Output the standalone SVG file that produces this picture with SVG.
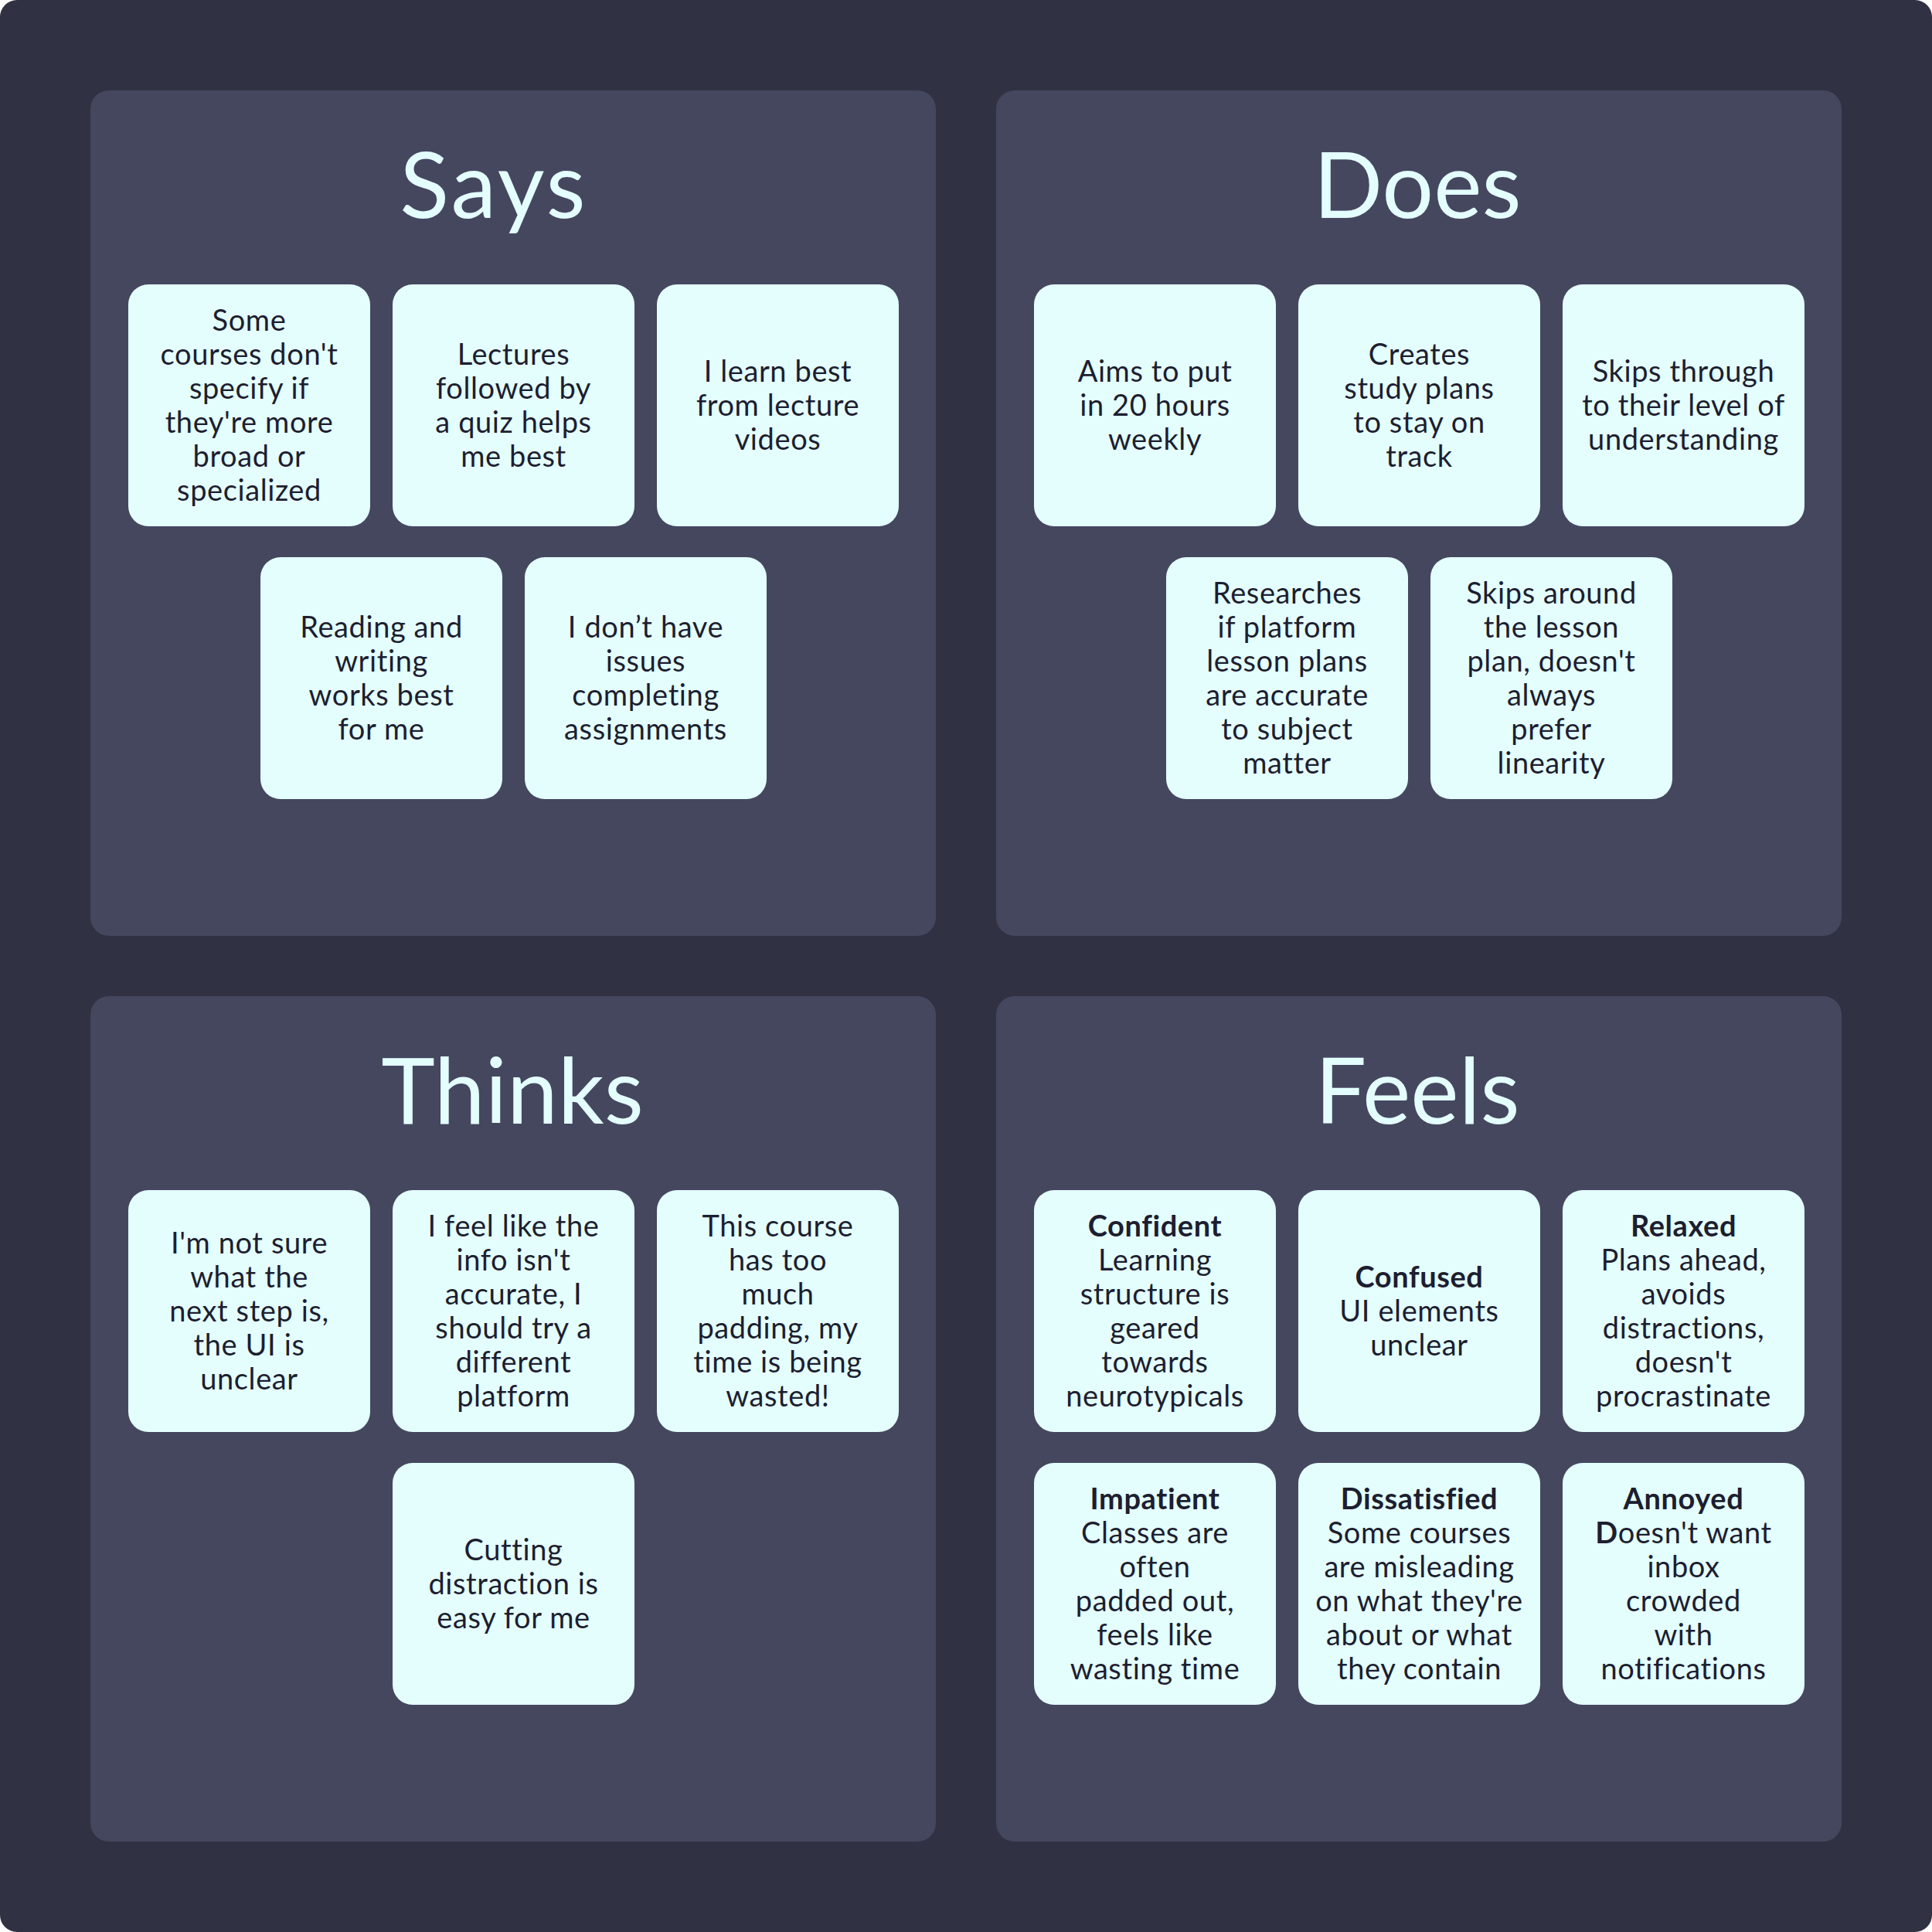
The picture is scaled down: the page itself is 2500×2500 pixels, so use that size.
<svg xmlns="http://www.w3.org/2000/svg" width="2500" height="2500" viewBox="0 0 2500 2500">
<style>
.bg{fill:#303142}
.panel{fill:#45475f}
.card{fill:#e4fefe}
.title{font-family:Lato,"Liberation Sans",sans-serif;font-size:118px;fill:#e4fefe;text-anchor:middle}
.t{font-family:Lato,"Liberation Sans",sans-serif;font-size:38px;fill:#1d1e30;text-anchor:middle;letter-spacing:0.6px}
.b{font-weight:bold}
</style>
<rect class="bg" x="0" y="0" width="2500" height="2500" rx="22"/>
<g id="says">
<rect class="panel" x="117" y="117" width="1094" height="1094" rx="24"/>
<text class="title" x="639" y="282" letter-spacing="3">Says</text>
</g>
<g id="does">
<rect class="panel" x="1289" y="117" width="1094" height="1094" rx="24"/>
<text class="title" x="1834" y="282">Does</text>
</g>
<g id="thinks">
<rect class="panel" x="117" y="1289" width="1094" height="1094" rx="24"/>
<text class="title" x="663" y="1454">Thinks</text>
</g>
<g id="feels">
<rect class="panel" x="1289" y="1289" width="1094" height="1094" rx="24"/>
<text class="title" x="1834" y="1454">Feels</text>
</g>

<g id="says-1"><rect class="card" x="166" y="368" width="313" height="313" rx="26"/>
<text class="t" x="322.5" y="427.5"><tspan x="322.5">Some</tspan><tspan x="322.5" dy="44">courses don't</tspan><tspan x="322.5" dy="44">specify if</tspan><tspan x="322.5" dy="44">they're more</tspan><tspan x="322.5" dy="44">broad or</tspan><tspan x="322.5" dy="44">specialized</tspan></text></g>
<g id="says-2"><rect class="card" x="508" y="368" width="313" height="313" rx="26"/>
<text class="t" x="664.5" y="471.5"><tspan x="664.5">Lectures</tspan><tspan x="664.5" dy="44">followed by</tspan><tspan x="664.5" dy="44">a quiz helps</tspan><tspan x="664.5" dy="44">me best</tspan></text></g>
<g id="says-3"><rect class="card" x="850" y="368" width="313" height="313" rx="26"/>
<text class="t" x="1006.5" y="493.5"><tspan x="1006.5">I learn best</tspan><tspan x="1006.5" dy="44">from lecture</tspan><tspan x="1006.5" dy="44">videos</tspan></text></g>
<g id="says-4"><rect class="card" x="337" y="721" width="313" height="313" rx="26"/>
<text class="t" x="493.5" y="824.5"><tspan x="493.5">Reading and</tspan><tspan x="493.5" dy="44">writing</tspan><tspan x="493.5" dy="44">works best</tspan><tspan x="493.5" dy="44">for me</tspan></text></g>
<g id="says-5"><rect class="card" x="679" y="721" width="313" height="313" rx="26"/>
<text class="t" x="835.5" y="824.5"><tspan x="835.5">I don’t have</tspan><tspan x="835.5" dy="44">issues</tspan><tspan x="835.5" dy="44">completing</tspan><tspan x="835.5" dy="44">assignments</tspan></text></g>

<g id="does-1"><rect class="card" x="1338" y="368" width="313" height="313" rx="26"/>
<text class="t" x="1494.5" y="493.5"><tspan x="1494.5">Aims to put</tspan><tspan x="1494.5" dy="44">in 20 hours</tspan><tspan x="1494.5" dy="44">weekly</tspan></text></g>
<g id="does-2"><rect class="card" x="1680" y="368" width="313" height="313" rx="26"/>
<text class="t" x="1836.5" y="471.5"><tspan x="1836.5">Creates</tspan><tspan x="1836.5" dy="44">study plans</tspan><tspan x="1836.5" dy="44">to stay on</tspan><tspan x="1836.5" dy="44">track</tspan></text></g>
<g id="does-3"><rect class="card" x="2022" y="368" width="313" height="313" rx="26"/>
<text class="t" x="2178.5" y="493.5"><tspan x="2178.5">Skips through</tspan><tspan x="2178.5" dy="44">to their level of</tspan><tspan x="2178.5" dy="44">understanding</tspan></text></g>
<g id="does-4"><rect class="card" x="1509" y="721" width="313" height="313" rx="26"/>
<text class="t" x="1665.5" y="780.5"><tspan x="1665.5">Researches</tspan><tspan x="1665.5" dy="44">if platform</tspan><tspan x="1665.5" dy="44">lesson plans</tspan><tspan x="1665.5" dy="44">are accurate</tspan><tspan x="1665.5" dy="44">to subject</tspan><tspan x="1665.5" dy="44">matter</tspan></text></g>
<g id="does-5"><rect class="card" x="1851" y="721" width="313" height="313" rx="26"/>
<text class="t" x="2007.5" y="780.5"><tspan x="2007.5">Skips around</tspan><tspan x="2007.5" dy="44">the lesson</tspan><tspan x="2007.5" dy="44">plan, doesn't</tspan><tspan x="2007.5" dy="44">always</tspan><tspan x="2007.5" dy="44">prefer</tspan><tspan x="2007.5" dy="44">linearity</tspan></text></g>

<g id="thinks-1"><rect class="card" x="166" y="1540" width="313" height="313" rx="26"/>
<text class="t" x="322.5" y="1621.5"><tspan x="322.5">I'm not sure</tspan><tspan x="322.5" dy="44">what the</tspan><tspan x="322.5" dy="44">next step is,</tspan><tspan x="322.5" dy="44">the UI is</tspan><tspan x="322.5" dy="44">unclear</tspan></text></g>
<g id="thinks-2"><rect class="card" x="508" y="1540" width="313" height="313" rx="26"/>
<text class="t" x="664.5" y="1599.5"><tspan x="664.5">I feel like the</tspan><tspan x="664.5" dy="44">info isn't</tspan><tspan x="664.5" dy="44">accurate, I</tspan><tspan x="664.5" dy="44">should try a</tspan><tspan x="664.5" dy="44">different</tspan><tspan x="664.5" dy="44">platform</tspan></text></g>
<g id="thinks-3"><rect class="card" x="850" y="1540" width="313" height="313" rx="26"/>
<text class="t" x="1006.5" y="1599.5"><tspan x="1006.5">This course</tspan><tspan x="1006.5" dy="44">has too</tspan><tspan x="1006.5" dy="44">much</tspan><tspan x="1006.5" dy="44">padding, my</tspan><tspan x="1006.5" dy="44">time is being</tspan><tspan x="1006.5" dy="44">wasted!</tspan></text></g>
<g id="thinks-4"><rect class="card" x="508" y="1893" width="313" height="313" rx="26"/>
<text class="t" x="664.5" y="2018.5"><tspan x="664.5">Cutting</tspan><tspan x="664.5" dy="44">distraction is</tspan><tspan x="664.5" dy="44">easy for me</tspan></text></g>

<g id="feels-1"><rect class="card" x="1338" y="1540" width="313" height="313" rx="26"/>
<text class="t" x="1494.5" y="1599.5"><tspan x="1494.5" class="b">Confident</tspan><tspan x="1494.5" dy="44">Learning</tspan><tspan x="1494.5" dy="44">structure is</tspan><tspan x="1494.5" dy="44">geared</tspan><tspan x="1494.5" dy="44">towards</tspan><tspan x="1494.5" dy="44">neurotypicals</tspan></text></g>
<g id="feels-2"><rect class="card" x="1680" y="1540" width="313" height="313" rx="26"/>
<text class="t" x="1836.5" y="1665.5"><tspan x="1836.5" class="b">Confused</tspan><tspan x="1836.5" dy="44">UI elements</tspan><tspan x="1836.5" dy="44">unclear</tspan></text></g>
<g id="feels-3"><rect class="card" x="2022" y="1540" width="313" height="313" rx="26"/>
<text class="t" x="2178.5" y="1599.5"><tspan x="2178.5" class="b">Relaxed</tspan><tspan x="2178.5" dy="44">Plans ahead,</tspan><tspan x="2178.5" dy="44">avoids</tspan><tspan x="2178.5" dy="44">distractions,</tspan><tspan x="2178.5" dy="44">doesn't</tspan><tspan x="2178.5" dy="44">procrastinate</tspan></text></g>
<g id="feels-4"><rect class="card" x="1338" y="1893" width="313" height="313" rx="26"/>
<text class="t" x="1494.5" y="1952.5"><tspan x="1494.5" class="b">Impatient</tspan><tspan x="1494.5" dy="44">Classes are</tspan><tspan x="1494.5" dy="44">often</tspan><tspan x="1494.5" dy="44">padded out,</tspan><tspan x="1494.5" dy="44">feels like</tspan><tspan x="1494.5" dy="44">wasting time</tspan></text></g>
<g id="feels-5"><rect class="card" x="1680" y="1893" width="313" height="313" rx="26"/>
<text class="t" x="1836.5" y="1952.5"><tspan x="1836.5" class="b">Dissatisfied</tspan><tspan x="1836.5" dy="44">Some courses</tspan><tspan x="1836.5" dy="44">are misleading</tspan><tspan x="1836.5" dy="44">on what they're</tspan><tspan x="1836.5" dy="44">about or what</tspan><tspan x="1836.5" dy="44">they contain</tspan></text></g>
<g id="feels-6"><rect class="card" x="2022" y="1893" width="313" height="313" rx="26"/>
<text class="t" x="2178.5" y="1952.5"><tspan x="2178.5" class="b">Annoyed</tspan><tspan x="2178.5" dy="44"><tspan class="b">D</tspan>oesn't want</tspan><tspan x="2178.5" dy="44">inbox</tspan><tspan x="2178.5" dy="44">crowded</tspan><tspan x="2178.5" dy="44">with</tspan><tspan x="2178.5" dy="44">notifications</tspan></text></g>
</svg>
